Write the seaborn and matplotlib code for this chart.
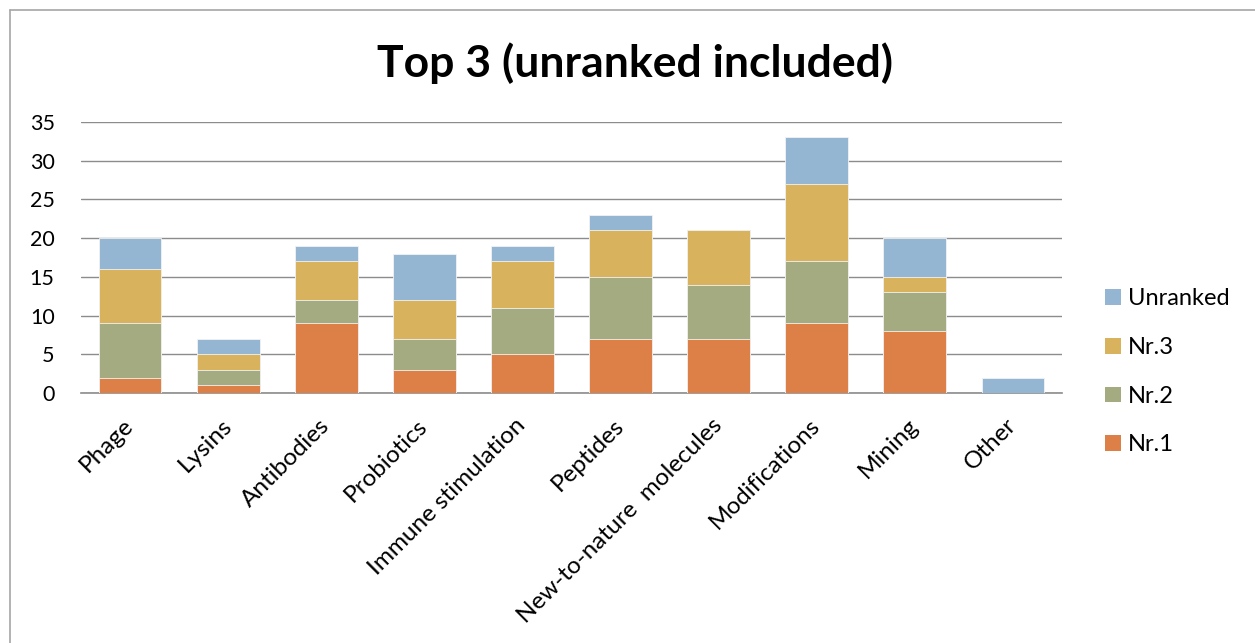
import matplotlib
matplotlib.use("Agg")
import matplotlib.pyplot as plt
import seaborn as sns
import numpy as np
import pandas as pd
from matplotlib.lines import Line2D
from matplotlib.patches import Patch

categories = ["Phage", "Lysins", "Antibodies", "Probiotics", "Immune stimulation",
              "Peptides", "New-to-nature  molecules", "Modifications", "Mining", "Other"]
nr1 = [2, 1, 9, 3, 5, 7, 7, 9, 8, 0]
nr2 = [7, 2, 3, 4, 6, 8, 7, 8, 5, 0]
nr3 = [7, 2, 5, 5, 6, 6, 7, 10, 2, 0]
unranked = [4, 2, 2, 6, 2, 2, 0, 6, 5, 2]
yticks = [0, 5, 10, 15, 20, 25, 30, 35]

series_names = ["Nr.1", "Nr.2", "Nr.3", "Unranked"]
colors = {"Nr.1": "#DD8047", "Nr.2": "#A5AB81", "Nr.3": "#D8B25C", "Unranked": "#94B6D2"}

sns.set_theme(style="white")
plt.rcParams['font.family'] = ['Lato', 'DejaVu Sans']
plt.rcParams['text.color'] = 'black'

fig = plt.figure(figsize=(12.55, 6.43), dpi=100)
ax = fig.add_axes([81/1255, 1-393/643, (1062-81)/1255, (393-122)/643])

vals = np.array([nr1, nr2, nr3, unranked], dtype=float)
cum = np.cumsum(vals, axis=0)
df = pd.DataFrame({"category": categories})
# draw from top layer (cumulative total) to bottom
for i in range(3, -1, -1):
    df["v"] = cum[i]
    sns.barplot(data=df, x="category", y="v", color=colors[series_names[i]],
                width=0.64, ax=ax, saturation=1, edgecolor="#F2F2F2", linewidth=0.6,
                zorder=3)

ax.set_ylim(0, 35)
ax.set_xlim(-0.5, len(categories) - 0.5)
ax.set_yticks(yticks)
ax.set_yticklabels([str(t) for t in yticks], fontsize=15.5, color="black")
ax.yaxis.grid(True, color="#8C8C8C", linewidth=1.0, zorder=0)
ax.set_axisbelow(True)
for s in ["left", "right", "top"]:
    ax.spines[s].set_visible(False)
ax.spines["bottom"].set_color("#8C8C8C")
ax.spines["bottom"].set_linewidth(1.2)
ax.set_xlabel("")
ax.set_ylabel("")
ax.tick_params(axis="y", length=0, pad=19, colors="black")
ax.tick_params(axis="x", length=0, pad=21, colors="black")
ax.set_xticks(range(len(categories)))
ax.set_xticklabels(categories, rotation=45, ha="right", va="center",
                   rotation_mode="anchor", fontsize=17.5, color="black")

handles = [Patch(facecolor=colors[n], edgecolor="none") for n in ["Unranked", "Nr.3", "Nr.2", "Nr.1"]]
leg = fig.legend(handles, ["Unranked", "Nr.3", "Nr.2", "Nr.1"], loc="upper left",
                 bbox_to_anchor=(1096/1255, 1-279/643), frameon=False, fontsize=17,
                 borderaxespad=0, handlelength=0.64, handleheight=0.64,
                 handletextpad=0.3, labelspacing=1.17)
for t in leg.get_texts():
    t.set_color("black")

fig.text(635/1255, 1-63/643, "Top 3 (unranked included)", ha="center", va="center",
         fontsize=32, fontweight="bold", color="black")

# chart border lines
fig.add_artist(Line2D([10/1255, 10/1255], [0, 1-10/643], color="#A6A6A6", linewidth=1.2))
fig.add_artist(Line2D([10/1255, 1], [1-10/643, 1-10/643], color="#A6A6A6", linewidth=1.2))

fig.savefig("out.png", dpi=100)
